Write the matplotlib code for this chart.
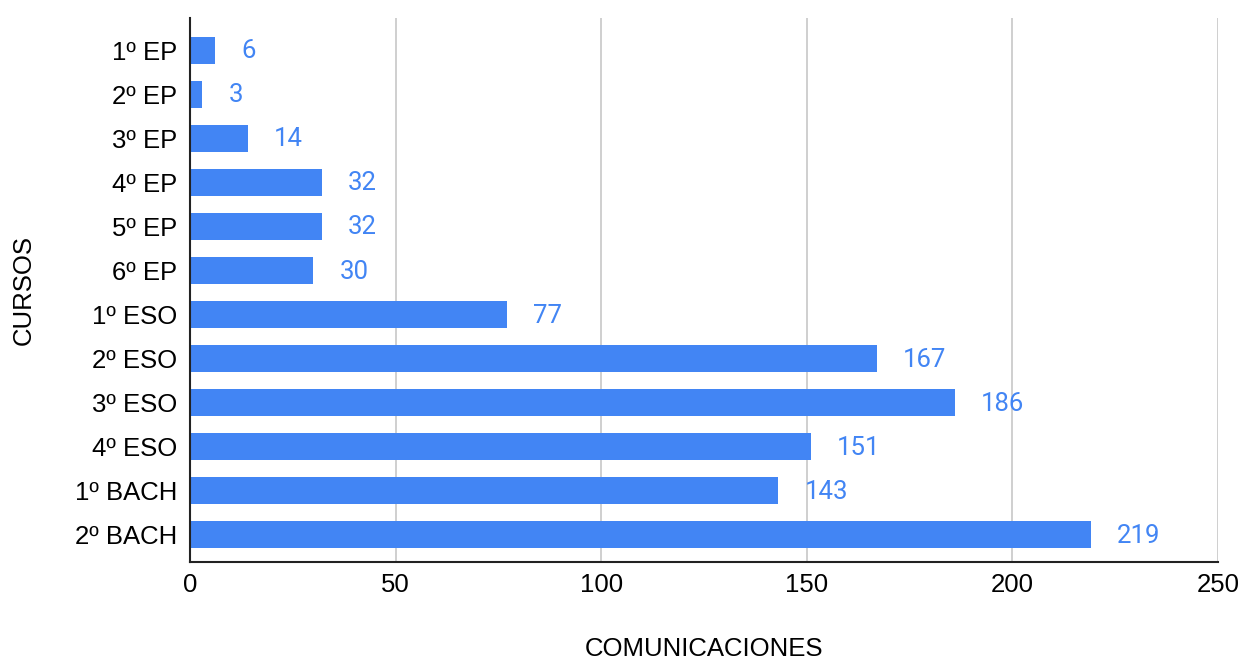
import matplotlib.pyplot as plt
import numpy as np

plt.rcParams['font.family'] = ['Liberation Sans', 'DejaVu Sans']

# data
cursos = ['1º EP', '2º EP', '3º EP', '4º EP', '5º EP', '6º EP',
          '1º ESO', '2º ESO', '3º ESO', '4º ESO', '1º BACH', '2º BACH']
comunicaciones = [6, 3, 14, 32, 32, 30, 77, 167, 186, 151, 143, 219]
xticks = [0, 50, 100, 150, 200, 250]

blue = '#4285F4'

fig = plt.figure(figsize=(12.42, 6.62), dpi=100)
ax = fig.add_axes([190/1242, 1 - 562/662, (1218 - 190)/1242, (562 - 18)/662])

y = np.arange(len(cursos))
ax.barh(y, comunicaciones, height=0.62, color=blue, zorder=3)

# value labels
for yi, v in zip(y, comunicaciones):
    ax.annotate(str(v), (v, yi), xytext=(19, 1), textcoords='offset points',
                va='center_baseline', ha='left', color=blue, fontsize=18.5,
                family=['Roboto', 'DejaVu Sans'])

ax.set_xlim(0, 250)
ax.set_ylim(11.62, -0.73)
ax.set_xticks(xticks)
ax.set_yticks(y)
ax.set_yticklabels(cursos)
ax.tick_params(axis='both', length=0, labelsize=18.5)
ax.tick_params(axis='y', pad=9)
ax.tick_params(axis='x', pad=8)

ax.grid(axis='x', color='#cccccc', linewidth=1.3, zorder=0)
ax.set_axisbelow(True)
for s in ['top', 'right']:
    ax.spines[s].set_visible(False)
for s in ['left', 'bottom']:
    ax.spines[s].set_color('#222222')
    ax.spines[s].set_linewidth(1.5)
    ax.spines[s].set_zorder(4)

ax.set_xlabel('COMUNICACIONES', fontsize=18.5, labelpad=29)
ax.set_ylabel('CURSOS', fontsize=18.5, labelpad=28)

fig.savefig('out.png', dpi=100)
